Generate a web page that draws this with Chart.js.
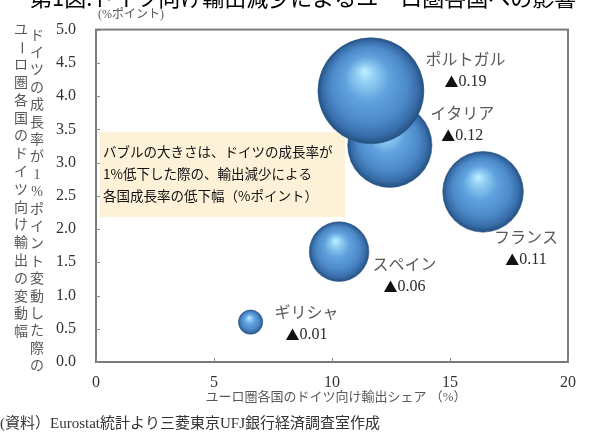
<!DOCTYPE html>
<html>
<head>
<meta charset="utf-8">
<script src="https://cdn.jsdelivr.net/npm/chart.js@4/dist/chart.umd.min.js"></script>
<style>
html,body{margin:0;padding:0;background:#fff;}
canvas{display:block;}
</style>
</head>
<body>
<canvas id="c" width="590" height="432"></canvas>
<script>
// ---- data ----
const categories = ['ギリシャ', 'スペイン', 'フランス', 'イタリア', 'ポルトガル'];
const exportShare = [6.55, 10.3, 16.4, 12.45, 11.65];      // x: ユーロ圏各国のドイツ向け輸出シェア (%)
const exportChange = [0.6, 1.66, 2.56, 3.26, 4.08];       // y: 輸出の変動幅 (%ポイント)
const growthImpact = [0.01, 0.06, 0.11, 0.12, 0.19];      // bubble: 成長率の低下幅 (%ポイント)
const xTickValues = [0, 5, 10, 15, 20];
const yTickValues = [0.0, 0.5, 1.0, 1.5, 2.0, 2.5, 3.0, 3.5, 4.0, 4.5, 5.0];

// ---- presentation ----
const SERIF = "'Liberation Serif', 'Noto Sans CJK JP', serif";
const SANS = "'Noto Sans CJK JP', sans-serif";
const BUBBLE_SCALE = 121.6; // px radius per sqrt(value)
const labelOffsets = [[56, -8.5], [65.5, 14], [43, 47], [72.5, -30.5], [94.5, -30]];

// bubbles must not enlarge the layout padding
Chart.BubbleController.prototype.getMaxOverflow = function () { return 0; };

function bubbleFill(ctx) {
  const chart = ctx.chart;
  if (ctx.type !== 'data' || !chart.chartArea) return '#4F8DD0';
  const xs = chart.scales.x, ys = chart.scales.y;
  const cx = xs.getPixelForValue(ctx.raw.x);
  const cy = ys.getPixelForValue(ctx.raw.y);
  const r = ctx.raw.r;
  const g = chart.ctx.createRadialGradient(cx - 0.12 * r, cy - 0.38 * r, 0, cx, cy, r);
  g.addColorStop(0, '#C4F0FF');
  g.addColorStop(0.14, '#98D4F6');
  g.addColorStop(0.42, '#60A2DE');
  g.addColorStop(0.72, '#4C89C8');
  g.addColorStop(0.9, '#376CA8');
  g.addColorStop(1, '#24507F');
  return g;
}

const deco = {
  id: 'deco',
  beforeDatasetsDraw(chart) {
    const c = chart.ctx;
    c.save();
    c.fillStyle = '#FDF1D8';
    c.fillRect(100, 132, 245, 85);
    c.restore();
  },
  afterDraw(chart) {
    const c = chart.ctx;
    const a = chart.chartArea;
    const xs = chart.scales.x, ys = chart.scales.y;
    c.save();
    // plot border
    c.strokeStyle = '#7A7A7A';
    c.lineWidth = 2;
    c.strokeRect(a.left, a.top, a.right - a.left, a.bottom - a.top);
    // inside tick marks
    c.lineWidth = 1;
    c.strokeStyle = '#8A8A8A';
    xs.ticks.forEach(t => {
      const px = Math.round(xs.getPixelForValue(t.value)) + 0.5;
      c.beginPath(); c.moveTo(px, a.bottom); c.lineTo(px, a.bottom - 4); c.stroke();
    });
    ys.ticks.forEach(t => {
      const py = Math.round(ys.getPixelForValue(t.value)) + 0.5;
      c.beginPath(); c.moveTo(a.left, py); c.lineTo(a.left + 4, py); c.stroke();
    });

    // title (partially cut at the top)
    c.fillStyle = '#000';
    c.font = "22px " + SANS;
    c.textAlign = 'left';
    c.textBaseline = 'alphabetic';
    c.fillText('第1図:ドイツ向け輸出減少によるユーロ圏各国への影響', 30, 6);

    // unit label
    c.fillStyle = '#595959';
    c.font = "12px " + SERIF;
    c.textBaseline = 'middle';
    c.fillText('(%ポイント)', 98, 15);

    // annotation text
    c.fillStyle = '#111';
    c.font = "13.5px " + SANS;
    c.fillText('バブルの大きさは、ドイツの成長率が', 103, 152);
    c.fillText('1%低下した際の、輸出減少による', 103, 174);
    c.fillText('各国成長率の低下幅（%ポイント）', 103, 196);

    // bubble labels
    const meta = chart.getDatasetMeta(0);
    meta.data.forEach((el, i) => {
      const [dx, dy] = labelOffsets[i];
      const cx = el.x + dx, cy = el.y + dy;
      c.textAlign = 'center';
      c.fillStyle = '#595959';
      c.font = "16px " + SERIF;
      c.fillText(categories[i], cx, cy);
      // ▲ value line
      const num = growthImpact[i].toFixed(2);
      c.font = "14px " + SANS;
      const wT = c.measureText('▲').width;
      c.font = "16px " + SERIF;
      const wN = c.measureText(num).width;
      const x0 = cx - (wT + wN) / 2;
      c.textAlign = 'left';
      c.fillStyle = '#111';
      c.font = "14px " + SANS;
      c.fillText('▲', x0, cy + 21);
      c.fillStyle = '#2a2a2a';
      c.font = "16px " + SERIF;
      c.fillText(num, x0 + wT, cy + 21);
    });

    // x axis title
    c.textAlign = 'center';
    c.font = "13px " + SERIF;
    c.fillStyle = '#595959';
    c.fillText('ユーロ圏各国のドイツ向け輸出シェア （%）', (a.left + a.right) / 2 + 4, 398);

    // y axis title (vertical, two columns)
    c.font = "14px " + SERIF;
    const drawVertical = (text, x, y0, step) => {
      Array.from(text).forEach((ch, k) => {
        const y = y0 + k * step;
        if (ch === 'ー') {
          c.save(); c.translate(x, y); c.rotate(Math.PI / 2); c.fillText(ch, 0, 0); c.restore();
        } else {
          c.fillText(ch, x, y);
        }
      });
    };
    drawVertical('ユーロ圏各国のドイツ向け輸出の変動幅', 21, 30, 17.8);
    drawVertical('ドイツの成長率が1%ポイント変動した際の', 37, 36, 17.4);

    // source
    c.textAlign = 'left';
    c.fillStyle = '#333';
    c.font = "15px " + SERIF;
    c.fillText('(資料）Eurostat統計より三菱東京UFJ銀行経済調査室作成', 0, 424);
    c.restore();
  }
};

new Chart(document.getElementById('c'), {
  type: 'bubble',
  data: {
    datasets: [{
      data: categories.map((_, i) => ({
        x: exportShare[i],
        y: exportChange[i],
        r: BUBBLE_SCALE * Math.sqrt(growthImpact[i])
      })),
      backgroundColor: bubbleFill,
      borderColor: '#2C5A8C',
      borderWidth: 0.6,
      hoverRadius: 0
    }]
  },
  options: {
    responsive: false,
    animation: false,
    devicePixelRatio: 1,
    layout: { padding: { top: 22, right: 22, left: 0, bottom: 0 } },
    plugins: { legend: { display: false }, tooltip: { enabled: false } },
    scales: {
      x: {
        type: 'linear', min: 0, max: 20,
        afterBuildTicks: s => { s.ticks = xTickValues.map(v => ({ value: v })); },
        ticks: { font: { family: SERIF, size: 16 }, color: '#333', padding: 11, maxRotation: 0,
                 callback: v => String(v) },
        grid: { display: false, drawTicks: false },
        border: { display: false },
        afterFit: s => { s.height = 70; }
      },
      y: {
        type: 'linear', min: 0, max: 5,
        afterBuildTicks: s => { s.ticks = yTickValues.map(v => ({ value: v })); },
        ticks: { font: { family: SERIF, size: 16 }, color: '#333', padding: 20,
                 callback: v => Number(v).toFixed(1) },
        grid: { display: false, drawTicks: false },
        border: { display: false },
        afterFit: s => { s.width = 96; }
      }
    }
  },
  plugins: [deco]
});
</script>
</body>
</html>
